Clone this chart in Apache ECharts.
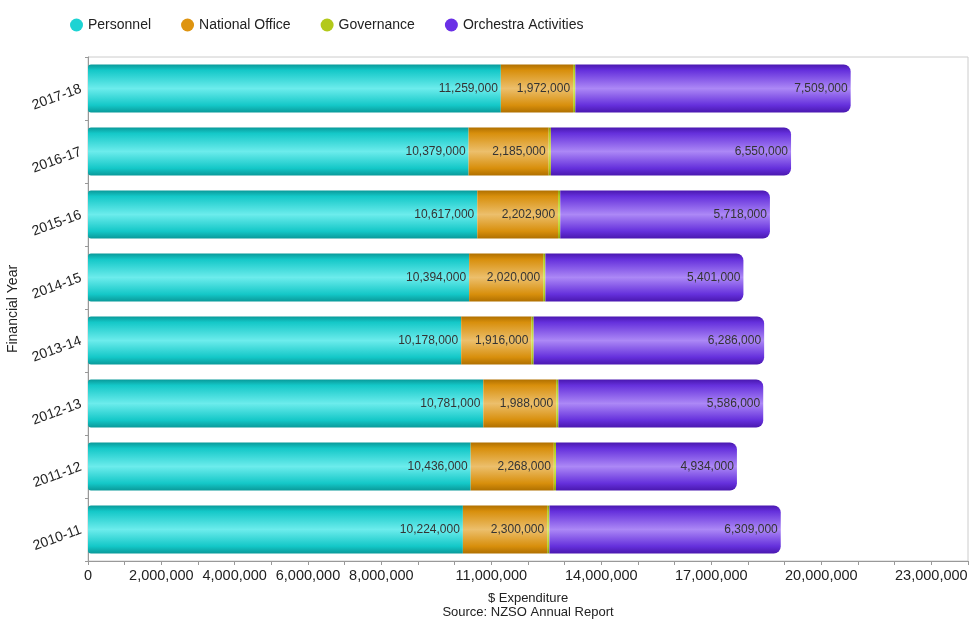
<!DOCTYPE html>
<html>
<head>
<meta charset="utf-8">
<script src="https://cdn.jsdelivr.net/npm/echarts@6/dist/echarts.min.js"></script>
<style>
  html, body { margin: 0; padding: 0; background: #fff; }
  #chart { width: 971px; height: 621px; }
</style>
</head>
<body>
<div id="chart"></div>
<script>
// Financial years, bottom to top
const years = ['2010-11', '2011-12', '2012-13', '2013-14', '2014-15', '2015-16', '2016-17', '2017-18'];

// Expenditure by category ($)
const personnel = [10224000, 10436000, 10781000, 10178000, 10394000, 10617000, 10379000, 11259000];
const nationalOffice = [2300000, 2268000, 1988000, 1916000, 2020000, 2202900, 2185000, 1972000];
const governance = [60000, 60000, 60000, 60000, 60000, 60000, 60000, 60000];
const orchestraActivities = [6309000, 4934000, 5586000, 6286000, 5401000, 5718000, 6550000, 7509000];

// Tick values that carry a label on the expenditure axis
const shownTicks = [0, 2000000, 4000000, 6000000, 8000000, 11000000, 14000000, 17000000, 20000000, 23000000];

const fmt = v => Number(v).toLocaleString('en-US');

// Cylinder-like shading across the bar thickness
function tube(dark, mid, light) {
  return new echarts.graphic.LinearGradient(0, 0, 0, 1, [
    { offset: 0, color: dark },
    { offset: 0.12, color: mid },
    { offset: 0.5, color: light },
    { offset: 0.85, color: mid },
    { offset: 1, color: dark }
  ]);
}

const labelStyle = {
  show: true,
  position: 'insideRight',
  distance: 3,
  color: '#333',
  fontFamily: 'Liberation Sans, Arial, sans-serif',
  fontSize: 12,
  formatter: p => fmt(p.value)
};

function seriesOf(name, data, legendColor, fill, showLabel, radius) {
  return {
    name: name,
    type: 'bar',
    stack: 'total',
    data: data,
    barWidth: '76%',
    color: legendColor,
    itemStyle: { color: fill, borderRadius: radius || 0 },
    label: showLabel ? labelStyle : { show: false },
    emphasis: { disabled: true }
  };
}

const chart = echarts.init(document.getElementById('chart'), null, { renderer: 'canvas' });

chart.setOption({
  animation: false,
  backgroundColor: '#fff',
  textStyle: { fontFamily: 'Liberation Sans, Arial, sans-serif' },
  legend: {
    top: 13,
    left: 65,
    icon: 'circle',
    itemWidth: 13,
    itemHeight: 13,
    itemGap: 30,
    textStyle: { fontSize: 14, color: '#222' },
    data: [
      { name: 'Personnel', itemStyle: { color: '#1dd3d3' } },
      { name: 'National Office', itemStyle: { color: '#de9410' } },
      { name: 'Governance', itemStyle: { color: '#b3c91a' } },
      { name: 'Orchestra Activities', itemStyle: { color: '#6a30e6' } }
    ]
  },
  grid: {
    left: 88,
    right: 3,
    top: 57,
    bottom: 60,
    outerBoundsMode: 'none',
    containLabel: false,
    show: true,
    borderColor: '#ccc',
    borderWidth: 1
  },
  xAxis: {
    type: 'value',
    min: 0,
    max: 24000000,
    interval: 1000000,
    name: '$ Expenditure\nSource: NZSO Annual Report',
    nameLocation: 'middle',
    nameGap: 30,
    nameMoveOverlap: false,
    nameTextStyle: { fontSize: 13, color: '#222', lineHeight: 14, verticalAlign: 'top' },
    axisLine: { show: true, lineStyle: { color: '#999' } },
    axisTick: { show: true, length: 4, lineStyle: { color: '#999' } },
    splitLine: { show: false },
    axisLabel: {
      fontSize: 14.5,
      color: '#222',
      margin: 7,
      showMaxLabel: true,
      formatter: v => shownTicks.includes(v) ? fmt(v) : ''
    }
  },
  yAxis: {
    type: 'category',
    data: years,
    name: 'Financial Year',
    nameLocation: 'middle',
    nameGap: 68,
    nameMoveOverlap: false,
    nameTextStyle: { fontSize: 14, color: '#222' },
    axisLine: { show: true, lineStyle: { color: '#999' } },
    axisTick: { show: true, length: 3, lineStyle: { color: '#999' } },
    axisLabel: { fontSize: 14, color: '#222', rotate: 20, margin: 7 }
  },
  series: [
    seriesOf('Personnel', personnel, '#1dd3d3',
      tube('#0a9a9a', '#14c8c8', '#6cecec'), true, [3, 0, 0, 3]),
    seriesOf('National Office', nationalOffice, '#de9410',
      tube('#b07000', '#d88f0c', '#ecbf6c'), true),
    seriesOf('Governance', governance, '#b3c91a',
      tube('#8a9c08', '#b0c818', '#d6e860'), false),
    seriesOf('Orchestra Activities', orchestraActivities, '#6a30e6',
      tube('#4a18b0', '#6530dc', '#ac88f6'), true, [0, 7, 7, 0])
  ]
});
</script>
</body>
</html>
